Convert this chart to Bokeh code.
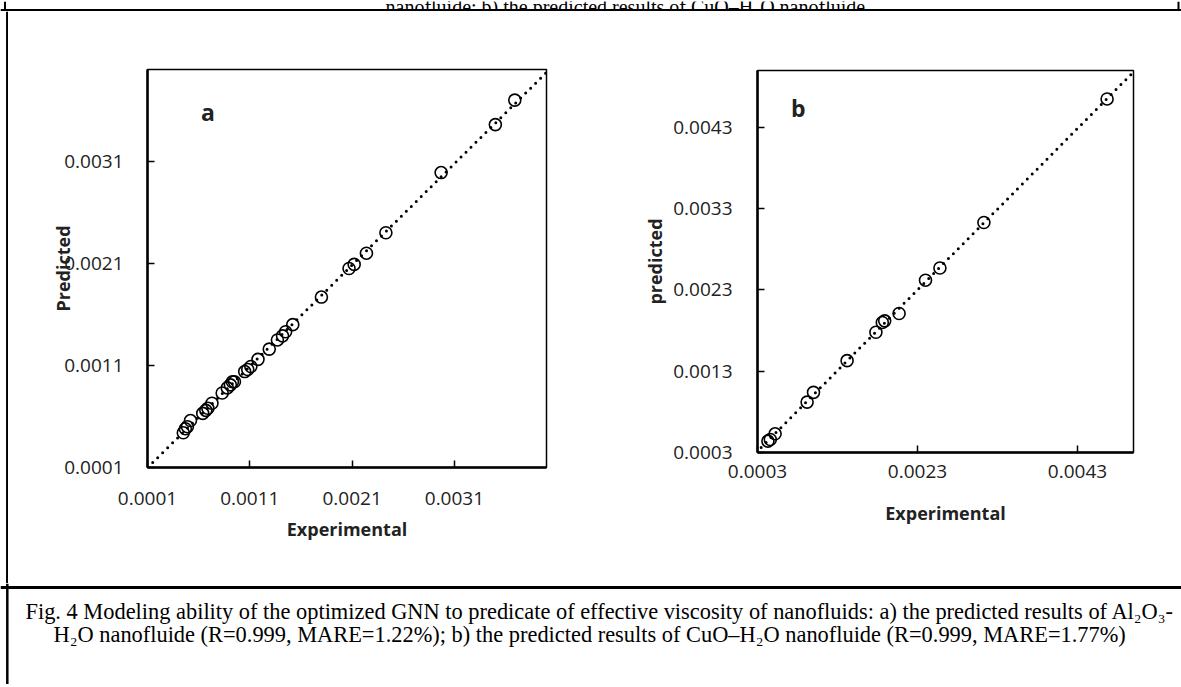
import numpy as np
from bokeh.plotting import figure
from bokeh.models import (Range1d, FixedTicker, PrintfTickFormatter, Slope, Label,
                          GlobalInlineStyleSheet)
from bokeh.layouts import row, column
from bokeh.core.properties import value
from bokeh.embed import file_html
from bokeh.resources import INLINE

# ---------------- data ----------------
a_experimental = [0.00045, 0.00047, 0.00049, 0.00052, 0.00064, 0.00067, 0.00069, 0.00073,
                  0.00083, 0.00088, 0.00091, 0.00093, 0.00095, 0.00105, 0.00108, 0.00111,
                  0.00118, 0.00129, 0.00137, 0.00142, 0.00145, 0.00152, 0.00180, 0.00207,
                  0.00212, 0.00224, 0.00243, 0.00297, 0.00350, 0.00369]
a_predicted = [0.00044, 0.00048, 0.00050, 0.00056, 0.00063, 0.00066, 0.00068, 0.00073,
               0.00083, 0.00088, 0.00091, 0.00094, 0.00094, 0.00104, 0.00106, 0.00109,
               0.00116, 0.00126, 0.00135, 0.00139, 0.00143, 0.00150, 0.00177, 0.00205,
               0.00209, 0.00220, 0.00240, 0.00299, 0.00346, 0.00370]
b_experimental = [0.00043, 0.00046, 0.00052, 0.00092, 0.00100, 0.00142, 0.00178, 0.00186,
                  0.00189, 0.00207, 0.00240, 0.00258, 0.00313, 0.00467]
b_predicted = [0.00044, 0.00046, 0.00053, 0.00092, 0.00104, 0.00143, 0.00178, 0.00190,
               0.00192, 0.00201, 0.00242, 0.00257, 0.00313, 0.00465]

a_ticks = [0.0001, 0.0011, 0.0021, 0.0031]
b_x_ticks = [0.0003, 0.0023, 0.0043]
b_y_ticks = [0.0003, 0.0013, 0.0023, 0.0033, 0.0043]
a_range = (0.0001, 0.0040)
b_range = (0.0003, 0.0050)

x_title = "Experimental"
a_y_title = "Predicted"
b_y_title = "predicted"
top_text = "nanofluide; b) the predicted results of CuO\u2013H\u2082O nanofluide"
caption_lines = [
    "Fig. 4 Modeling ability of the optimized GNN to predicate of effective viscosity of nanofluids: a) the predicted results of Al\u2082O\u2083-",
    "H\u2082O nanofluide (R=0.999, MARE=1.22%); b) the predicted results of CuO\u2013H\u2082O nanofluide (R=0.999, MARE=1.77%)",
]

TICK_FONT = "Open Sans"
SERIF = "Liberation Serif"


def make_chart(xs, ys, rng, xticks, yticks, width, height, borders, letter, letter_xy,
               ylabel, x_std, xlab_std, y_std, ylab_std):
    p = figure(width=width, height=height, x_range=Range1d(*rng), y_range=Range1d(*rng),
               output_backend="svg", toolbar_location=None, tools="",
               min_border_left=borders[0], min_border_right=borders[1],
               min_border_top=borders[2], min_border_bottom=borders[3])
    p.frame_align = False
    p.grid.visible = False
    p.outline_line_color = "black"
    p.outline_line_width = 1.5
    p.background_fill_color = "white"
    p.border_fill_color = "white"

    p.scatter(xs, ys, marker="circle", size=12, fill_color=None,
              line_color="black", line_width=1.6)
    m, c = np.polyfit(xs, ys, 1)
    p.add_layout(Slope(gradient=m, y_intercept=c, line_color="black", line_width=3,
                       line_dash="0 7", line_cap="round"))

    p.xaxis.ticker = FixedTicker(ticks=xticks)
    p.yaxis.ticker = FixedTicker(ticks=yticks)
    for ax in (p.xaxis[0], p.yaxis[0]):
        ax.formatter = PrintfTickFormatter(format="%.4f")
        ax.axis_line_width = 2.5
        ax.axis_line_color = "black"
        ax.major_tick_in = 7
        ax.major_tick_out = 0
        ax.major_tick_line_width = 1.5
        ax.major_tick_line_color = "black"
        ax.minor_tick_line_color = None
        ax.major_label_text_font = TICK_FONT
        ax.major_label_text_font_size = "19px"
        ax.major_label_text_color = "#222222"
        ax.axis_label_text_font = TICK_FONT
        ax.axis_label_text_font_size = "18px"
        ax.axis_label_text_font_style = "bold"
        ax.axis_label_text_color = "#222222"
    p.xaxis.axis_label = x_title
    p.yaxis.axis_label = ylabel
    p.xaxis.major_label_standoff = x_std
    p.xaxis.axis_label_standoff = xlab_std
    p.yaxis.major_label_standoff = y_std
    p.yaxis.axis_label_standoff = ylab_std

    p.add_layout(Label(x=letter_xy[0], y=letter_xy[1], text=letter, text_font=TICK_FONT,
                       text_font_size="23px", text_font_style="bold", text_color="#222222",
                       text_align="center", text_baseline="middle"))
    return p


MID_H = 572
fig_a = make_chart(a_experimental, a_predicted, a_range, a_ticks, a_ticks,
                   620, MID_H, (139, 82, 58, 116), "a", (0.00069, 0.00358),
                   a_y_title, 24, 9, 24, -14)
fig_b = make_chart(b_experimental, b_predicted, b_range, b_x_ticks, b_y_ticks,
                   553, MID_H, (129, 48, 59, 131), "b", (0.00081, 0.00454),
                   b_y_title, 12, 20, 25, 3)


def pixel_fig(width, height, y_top, y_bottom):
    p = figure(width=width, height=height, x_range=Range1d(0, width),
               y_range=Range1d(y_bottom, y_top), x_axis_type=None, y_axis_type=None,
               output_backend="svg", toolbar_location=None, tools="",
               min_border=0, min_border_left=0, min_border_right=0,
               min_border_top=0, min_border_bottom=0)
    p.frame_align = False
    p.grid.visible = False
    p.outline_line_color = None
    p.background_fill_color = "white"
    p.border_fill_color = "white"
    return p


# top strip (page y 0..11)
top = pixel_fig(1181, 11, 0, 11)
top.text(x=[385], y=[5.5], text=[top_text], text_font=value(SERIF), text_font_size="20px",
         text_baseline="alphabetic", text_align="left", text_color="black")
top.segment(x0=[0], y0=[8.8], x1=[1181], y1=[8.8], line_width=2.5, line_color="black")
top.segment(x0=[4.5, 1178], y0=[0, 0], x1=[4.5, 1178], y1=[8.8, 8.8],
            line_width=2, line_color="black")
top.segment(x0=[6.8], y0=[8.8], x1=[6.8], y1=[11], line_width=2.5, line_color="black")

# left border strip in the middle section
left = pixel_fig(8, MID_H, 0, MID_H)
left.segment(x0=[6.8], y0=[0], x1=[6.8], y1=[MID_H], line_width=2.5, line_color="black")

# caption strip (page y 583..684)
bottom = pixel_fig(1181, 101, 583, 684)
bottom.segment(x0=[0], y0=[587], x1=[1181], y1=[587], line_width=3, line_color="black")
bottom.segment(x0=[6.8], y0=[583], x1=[6.8], y1=[684], line_width=2.5, line_color="black")
bottom.text(x=[25, 53], y=[611, 634], text=caption_lines, text_font=value(SERIF),
            text_font_size="22.4px", text_baseline="alphabetic", text_align="left",
            text_color="black")

root = column(top, row(left, fig_a, fig_b), bottom)
root.stylesheets = [GlobalInlineStyleSheet(css="html, body { margin: 0 !important; padding: 0; overflow: hidden; }")]

open("out.html", "w").write(file_html(root, INLINE))
